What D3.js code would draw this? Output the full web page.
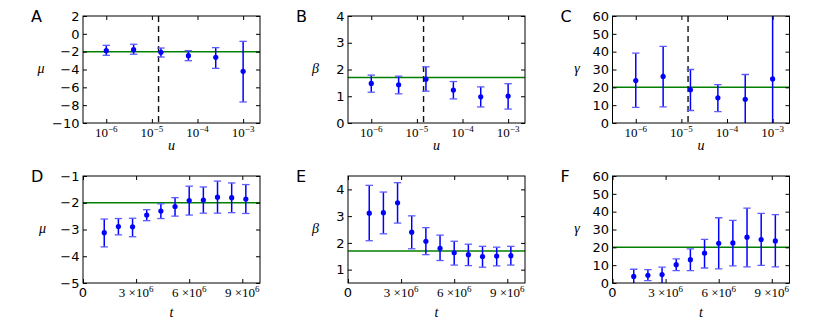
<!DOCTYPE html>
<html>
<head>
<meta charset="utf-8">
<script src="https://cdn.jsdelivr.net/npm/d3@7"></script>
<style>
  body { margin: 0; background: #fff; }
</style>
</head>
<body>
<div id="chart"></div>
<script>
// x values
var uVals = [1e-6, 3.98e-6, 1.58e-5, 6.31e-5, 2.51e-4, 1e-3];
var tVals = [1.2e6, 2.0e6, 2.8e6, 3.6e6, 4.4e6, 5.2e6, 6.0e6, 6.8e6, 7.6e6, 8.4e6, 9.2e6];

// panel A: mu vs u
var muU    = [-1.89, -1.78, -2.07, -2.45, -2.63, -4.2];
var muULo  = [-2.41, -2.29, -2.60, -3.01, -3.87, -7.64];
var muUHi  = [-1.29, -1.17, -1.59, -1.89, -1.55, -0.84];
// panel B: beta vs u
var betaU   = [1.48, 1.43, 1.64, 1.23, 0.98, 1.01];
var betaULo = [1.15, 1.09, 1.19, 0.90, 0.60, 0.52];
var betaUHi = [1.79, 1.75, 2.10, 1.55, 1.35, 1.47];
// panel C: gamma vs u
var gamU   = [23.8, 26.1, 18.6, 14.1, 13.3, 24.7];
var gamULo = [8.8, 9.0, 7.0, 6.4, -1, -12];
var gamUHi = [39.2, 43.0, 30.0, 21.5, 27.2, 70];

// panel D: mu vs t
var muT   = [-3.12, -2.89, -2.90, -2.46, -2.31, -2.14, -1.92, -1.90, -1.79, -1.81, -1.86];
var muTLo = [-3.65, -3.20, -3.27, -2.67, -2.59, -2.50, -2.46, -2.39, -2.39, -2.37, -2.40];
var muTHi = [-2.61, -2.59, -2.58, -2.26, -2.04, -1.81, -1.38, -1.41, -1.19, -1.26, -1.32];
// panel E: beta vs t
var betaT   = [3.11, 3.13, 3.50, 2.40, 2.06, 1.80, 1.63, 1.56, 1.49, 1.51, 1.52];
var betaTLo = [2.08, 2.34, 2.74, 1.78, 1.56, 1.34, 1.17, 1.15, 1.09, 1.14, 1.17];
var betaTHi = [4.15, 3.90, 4.25, 3.01, 2.57, 2.29, 2.06, 1.95, 1.87, 1.84, 1.87];
// panel F: gamma vs t
var gamT   = [3.7, 4.3, 4.7, 10.3, 13.1, 16.7, 22.3, 22.5, 25.7, 24.4, 23.6];
var gamTLo = [-0.5, 1.3, -0.2, 6.9, 6.9, 8.4, 7.9, 9.6, 9.0, 9.9, 9.0];
var gamTHi = [7.7, 7.5, 8.9, 13.5, 19.1, 24.5, 36.6, 35.1, 42.0, 39.0, 38.3];

// true parameter values and threshold
var trueMu = -2, trueBeta = 1.7, trueGamma = 20;
var uThreshold = 1.4e-5;

// tick labels
var uTicks = [1e-6, 1e-5, 1e-4, 1e-3];
var uTickExp = ["\u22126", "\u22125", "\u22124", "\u22123"];
var tTicks = [0, 3e6, 6e6, 9e6];
var tTickMant = ["0", "3", "6", "9"];

var width = 830, height = 332;
var svg = d3.select('#chart').append('svg')
  .attr('width', width)
  .attr('height', height);

var colLeft = [83, 348, 612.5], rowTop = [16, 176];
var pw = 177, ph = 107;
var blue = "#0000ff";

var panels = [
  {letter: "A", col: 0, row: 0, x: uVals, y: muU, lo: muULo, hi: muUHi, log: true,
   ydom: [-10, 2], yticks: d3.range(-10, 3, 2), ylab: "\u03bc", ylabDx: -42, truth: trueMu},
  {letter: "B", col: 1, row: 0, x: uVals, y: betaU, lo: betaULo, hi: betaUHi, log: true,
   ydom: [0, 4], yticks: [0, 1, 2, 3, 4], ylab: "\u03b2", ylabDx: -32.5, truth: trueBeta},
  {letter: "C", col: 2, row: 0, x: uVals, y: gamU, lo: gamULo, hi: gamUHi, log: true,
   ydom: [0, 60], yticks: d3.range(0, 61, 10), ylab: "\u03b3", ylabDx: -35.5, truth: trueGamma},
  {letter: "D", col: 0, row: 1, x: tVals, y: muT, lo: muTLo, hi: muTHi, log: false,
   ydom: [-5, -1], yticks: [-5, -4, -3, -2, -1], ylab: "\u03bc", ylabDx: -40.5, truth: trueMu},
  {letter: "E", col: 1, row: 1, x: tVals, y: betaT, lo: betaTLo, hi: betaTHi, log: false,
   ydom: [0.5, 4.5], yticks: [1, 2, 3, 4], ylab: "\u03b2", ylabDx: -32.5, truth: trueBeta},
  {letter: "F", col: 2, row: 1, x: tVals, y: gamT, lo: gamTLo, hi: gamTHi, log: false,
   ydom: [0, 60], yticks: d3.range(0, 61, 10), ylab: "\u03b3", ylabDx: -35.5, truth: trueGamma}
];

var fmtY = function(d) { return d < 0 ? "\u2212" + Math.abs(d) : String(d); };

panels.forEach(function(p, i) {
  var g = svg.append("g")
    .attr("transform", "translate(" + colLeft[p.col] + "," + rowTop[p.row] + ")");

  var x = p.log
    ? d3.scaleLog().domain([Math.pow(10, -6.51), Math.pow(10, -2.63)]).range([0, pw])
    : d3.scaleLinear().domain([0, 1e7]).range([0, pw]);
  var y = d3.scaleLinear().domain(p.ydom).range([ph, 0]);

  var clipId = "clip" + i;
  g.append("clipPath").attr("id", clipId)
    .append("rect").attr("width", pw).attr("height", ph);

  var plot = g.append("g").attr("clip-path", "url(#" + clipId + ")");

  // true value line
  plot.append("line")
    .attr("x1", 0).attr("x2", pw)
    .attr("y1", y(p.truth)).attr("y2", y(p.truth))
    .style("stroke", "#008000")
    .style("stroke-width", 1.5);

  // threshold dashed line
  if (p.log) {
    plot.append("line")
      .attr("x1", x(uThreshold)).attr("x2", x(uThreshold))
      .attr("y1", 0).attr("y2", ph)
      .style("stroke", "#111")
      .style("stroke-width", 1.4)
      .style("stroke-dasharray", "6,4");
  }

  var pts = p.x.map(function(xv, j) {
    return {x: xv, y: p.y[j], lo: p.lo[j], hi: p.hi[j]};
  });

  var eb = plot.selectAll(".eb").data(pts).enter().append("g").attr("class", "eb");
  eb.append("line")
    .attr("x1", function(d) { return x(d.x); })
    .attr("x2", function(d) { return x(d.x); })
    .attr("y1", function(d) { return y(d.lo); })
    .attr("y2", function(d) { return y(d.hi); })
    .style("stroke", blue)
    .style("stroke-width", 1.5);
  ["lo", "hi"].forEach(function(k) {
    eb.append("line")
      .attr("x1", function(d) { return x(d.x) - 3.7; })
      .attr("x2", function(d) { return x(d.x) + 3.7; })
      .attr("y1", function(d) { return y(d[k]); })
      .attr("y2", function(d) { return y(d[k]); })
      .style("stroke", "#5c5cff")
      .style("stroke-width", 1.3);
  });
  eb.append("circle")
    .attr("cx", function(d) { return x(d.x); })
    .attr("cy", function(d) { return y(d.y); })
    .attr("r", 2.6)
    .style("fill", blue);

  // axes: inward ticks on all four sides
  var yl = g.append("g")
    .call(d3.axisLeft(y).tickValues(p.yticks).tickFormat(fmtY).tickSize(-4).tickPadding(3.5));
  var yr = g.append("g").attr("transform", "translate(" + pw + ",0)")
    .call(d3.axisRight(y).tickValues(p.yticks).tickFormat("").tickSize(-4));
  var xb = g.append("g").attr("transform", "translate(0," + ph + ")")
    .call(d3.axisBottom(x).tickValues(p.log ? uTicks : tTicks).tickFormat("").tickSize(-4));
  var xt = g.append("g")
    .call(d3.axisTop(x).tickValues(p.log ? uTicks : tTicks).tickFormat("").tickSize(-4));

  [yl, yr, xb, xt].forEach(function(a) {
    a.select(".domain").remove();
    a.selectAll(".tick line").style("stroke", "#000").style("stroke-width", 1);
  });
  yl.selectAll(".tick text")
    .attr("font-family", "DejaVu Sans")
    .attr("font-size", 13)
    .style("fill", "#000");

  // x tick labels
  var xl = g.append("g").attr("transform", "translate(0," + (ph + 14) + ")");
  var ticks = p.log ? uTicks : tTicks;
  ticks.forEach(function(tv, j) {
    var tx = xl.append("text")
      .attr("x", x(tv))
      .attr("text-anchor", "middle")
      .style("fill", "#000");
    if (p.log) {
      tx.attr("font-family", "Liberation Serif").attr("font-size", 13);
      tx.append("tspan").text("10");
      tx.append("tspan").attr("dy", -5).attr("font-size", 9).text(uTickExp[j]);
    } else if (tv === 0) {
      tx.attr("font-family", "DejaVu Sans").attr("font-size", 13).text("0");
    } else {
      tx.attr("font-family", "Liberation Serif").attr("font-size", 13);
      tx.append("tspan").text(tTickMant[j] + " \u00d710");
      tx.append("tspan").attr("dy", -5).attr("font-size", 9).text("6");
    }
  });

  // frame
  g.append("rect")
    .attr("width", pw).attr("height", ph)
    .style("fill", "none")
    .style("stroke", "#000")
    .style("stroke-width", 1);

  // axis labels
  g.append("text")
    .attr("x", p.ylabDx)
    .attr("y", ph / 2 + 3)
    .attr("text-anchor", "middle")
    .attr("font-family", "Liberation Serif")
    .attr("font-style", "italic")
    .attr("font-size", 14)
    .text(p.ylab);

  g.append("text")
    .attr("x", pw / 2)
    .attr("y", ph + (p.row === 0 ? 27 : 34))
    .attr("text-anchor", "middle")
    .attr("font-family", "Liberation Serif")
    .attr("font-style", "italic")
    .attr("font-size", 14)
    .text(p.log ? "u" : "t");

  // panel letter
  g.append("text")
    .attr("x", -52)
    .attr("y", 5.7)
    .attr("font-family", "DejaVu Sans")
    .attr("font-size", 16)
    .text(p.letter);
});
</script>
</body>
</html>
